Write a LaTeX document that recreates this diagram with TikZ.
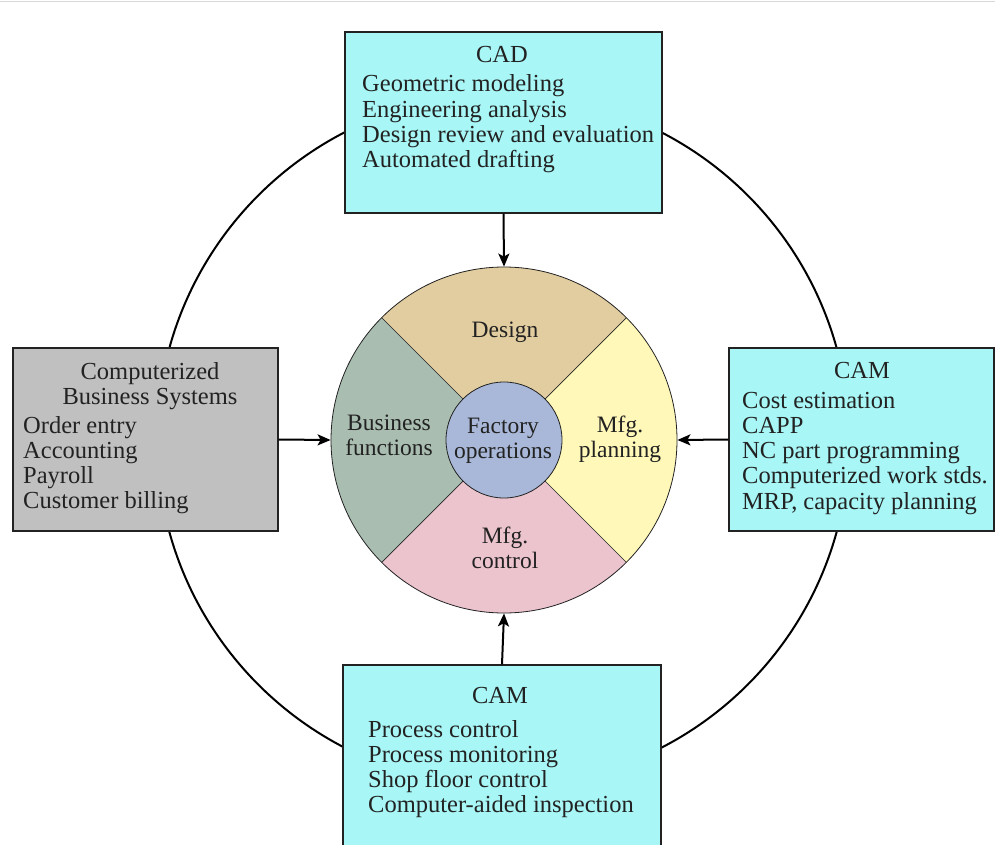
\documentclass[tikz,border=0pt]{standalone}
\usepackage{fontspec}
\setmainfont{Liberation Serif}
\usetikzlibrary{arrows.meta,calc}
\newcommand\mylines[2]{\begin{tabular}[t]{@{}#1@{}}#2\end{tabular}}
\definecolor{cyanfill}{HTML}{A8F6F6}
\definecolor{greyfill}{HTML}{C0C0C0}
\definecolor{designc}{HTML}{E2CDA0}
\definecolor{busc}{HTML}{A9BDB1}
\definecolor{planc}{HTML}{FFF8B9}
\definecolor{ctrlc}{HTML}{EBC4CE}
\definecolor{foc}{HTML}{A9B8D8}
\definecolor{inkc}{HTML}{222222}
\begin{document}
\begin{tikzpicture}[x=1pt,y=-1pt,
  txt/.style={inner sep=0pt, text=inkc, font=\fontsize{24.5}{25.3}\selectfont},
  wtxt/.style={txt, font=\fontsize{23.5}{25}\selectfont},
  box/.style={draw=inkc, line width=1.4pt, inner sep=0pt},
  ring/.style={draw=black, line width=2pt},
  arr/.style={draw=black, line width=2pt, -{Stealth[length=13pt,width=11pt,inset=3pt]}},
  sep/.style={draw=inkc, line width=0.7pt}]
\useasboundingbox (0,0) rectangle (995,845);
\fill[white] (0,0) rectangle (995,845);
\draw[draw=black!15, line width=1.5pt] (0,1.5) -- (995,1.5);
\coordinate (c) at (504,440);
% outer ring
\draw[ring] (503,440) circle[radius=346pt];
% boxes
\node[box, fill=cyanfill, minimum width=317pt, minimum height=181pt] (cad) at (503.5,122.5) {};
\node[box, fill=greyfill, minimum width=265pt, minimum height=183pt] (cbs) at (145.5,439.5) {};
\node[box, fill=cyanfill, minimum width=265pt, minimum height=183pt] (camr) at (861.5,439.5) {};
\node[box, fill=cyanfill, minimum width=318pt, minimum height=185pt] (camb) at (502,757.5) {};
% box texts
\node[txt, anchor=base] (cadt) at (502,63) {CAD};
\node[txt, anchor=base west] (cadl) at (362,92) {\mylines{l}{Geometric modeling\\Engineering analysis\\Design review and evaluation\\Automated drafting}};
\node[txt, anchor=base] (cbst) at (150,379) {\mylines{c}{Computerized\\Business Systems}};
\node[txt, anchor=base west] (cbsl) at (23,433) {\mylines{l}{Order entry\\Accounting\\Payroll\\Customer billing}};
\node[txt, anchor=base] (camrt) at (862,378) {CAM};
\node[txt, anchor=base west] (camrl) at (742,408) {\mylines{l}{Cost estimation\\CAPP\\NC part programming\\Computerized work stds.\\MRP, capacity planning}};
\node[txt, anchor=base] (cambt) at (500,703) {CAM};
\node[txt, anchor=base west] (cambl) at (368,737) {\mylines{l}{Process control\\Process monitoring\\Shop floor control\\Computer-aided inspection}};
% wheel sectors
\fill[designc] (c) -- ($(c)+(45:173pt)$) arc[start angle=45,end angle=135,radius=173pt] -- cycle;
\fill[busc] (c) -- ($(c)+(135:173pt)$) arc[start angle=135,end angle=225,radius=173pt] -- cycle;
\fill[ctrlc] (c) -- ($(c)+(225:173pt)$) arc[start angle=225,end angle=315,radius=173pt] -- cycle;
\fill[planc] (c) -- ($(c)+(-45:173pt)$) arc[start angle=-45,end angle=45,radius=173pt] -- cycle;
\foreach \a in {45,135,225,315}
  \draw[sep] ($(c)+(\a:58pt)$) -- ($(c)+(\a:173pt)$);
\node[circle, draw=inkc, line width=0.8pt, minimum size=346pt, inner sep=0pt] (wheel) at (c) {};
\node[circle, draw=inkc, line width=0.8pt, fill=foc, minimum size=116pt, inner sep=0pt] (fo) at (c) {};
% wheel labels
\node[wtxt, anchor=base] (lfo) at (503,433) {\mylines{c}{Factory\\operations}};
\node[wtxt, anchor=base] (ldes) at (505,337) {Design};
\node[wtxt, anchor=base] (lbus) at (389,430) {\mylines{c}{Business\\functions}};
\node[wtxt, anchor=base] (lplan) at (620,432) {\mylines{c}{Mfg.\\planning}};
\node[wtxt, anchor=base] (lctrl) at (505,543) {\mylines{c}{Mfg.\\control}};
% arrows
\draw[arr] (cad.south) -- (wheel.north);
\draw[arr] (cbs.east) -- (wheel.west);
\draw[arr] (camr.west) -- (wheel.east);
\draw[arr] (camb.north) -- (wheel.south);
\end{tikzpicture}
\end{document}
